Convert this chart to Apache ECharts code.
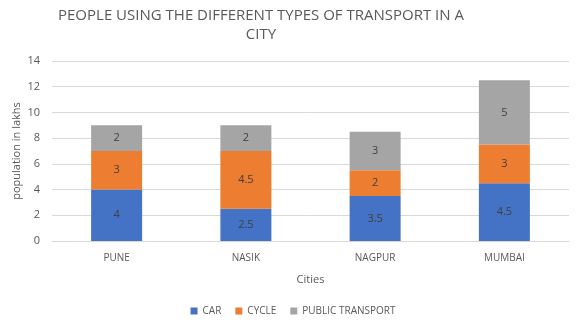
<!DOCTYPE html>
<html>
<head>
<meta charset="utf-8">
<script src="https://cdn.jsdelivr.net/npm/echarts@6/dist/echarts.min.js"></script>
<style>
  html, body { margin: 0; padding: 0; background: #fff; }
  #chart { width: 586px; height: 323px; }
</style>
</head>
<body>
<div id="chart"></div>
<script>
// City names along the x axis
const cities = ['PUNE', 'NASIK', 'NAGPUR', 'MUMBAI'];
// Population (in lakhs) using each type of transport
const car = [4, 2.5, 3.5, 4.5];
const cycle = [3, 4.5, 2, 3];
const publicTransport = [2, 2, 3, 5];

const font = '"Open Sans", "Liberation Sans", sans-serif';
const textGray = '#595959';

function stackSeries(name, data, color) {
  return {
    name: name,
    type: 'bar',
    stack: 'total',
    data: data,
    barWidth: 51,
    itemStyle: { color: color },
    label: {
      show: true,
      position: 'inside',
      color: '#404040',
      fontSize: 11,
      fontFamily: font
    }
  };
}

const chart = echarts.init(document.getElementById('chart'), null, { renderer: 'canvas' });
chart.setOption({
  animation: false,
  title: {
    text: 'PEOPLE USING THE DIFFERENT TYPES OF TRANSPORT IN A\nCITY',
    left: 256,
    textAlign: 'center',
    top: 1,
    textStyle: {
      fontFamily: font,
      fontWeight: 'normal',
      fontSize: 15,
      lineHeight: 19,
      color: textGray
    }
  },
  grid: { left: 52, right: 17, top: 61, bottom: 82, containLabel: false, outerBoundsMode: 'none' },
  legend: {
    bottom: 2,
    left: 'center',
    itemWidth: 7,
    itemHeight: 7,
    itemGap: 14,
    icon: 'rect',
    textStyle: { fontFamily: font, fontSize: 10, color: textGray }
  },
  xAxis: {
    type: 'category',
    data: cities,
    name: 'Cities',
    nameLocation: 'middle',
    nameGap: 33,
    nameMoveOverlap: false,
    nameTextStyle: { fontFamily: font, fontSize: 11, color: textGray },
    axisLine: { lineStyle: { color: '#d9d9d9' } },
    axisTick: { show: false },
    axisLabel: { fontFamily: font, fontSize: 10, color: textGray, margin: 12 }
  },
  yAxis: {
    type: 'value',
    min: 0,
    max: 14,
    interval: 2,
    name: 'population in lakhs',
    nameLocation: 'middle',
    nameGap: 30,
    nameMoveOverlap: false,
    nameTextStyle: { fontFamily: font, fontSize: 11, color: textGray },
    axisLine: { show: false },
    axisTick: { show: false },
    splitLine: { lineStyle: { color: '#d9d9d9' } },
    axisLabel: { fontFamily: font, fontSize: 11, color: textGray, margin: 12 }
  },
  series: [
    stackSeries('CAR', car, '#4472C4'),
    stackSeries('CYCLE', cycle, '#ED7D31'),
    stackSeries('PUBLIC TRANSPORT', publicTransport, '#A5A5A5')
  ]
});
</script>
</body>
</html>
